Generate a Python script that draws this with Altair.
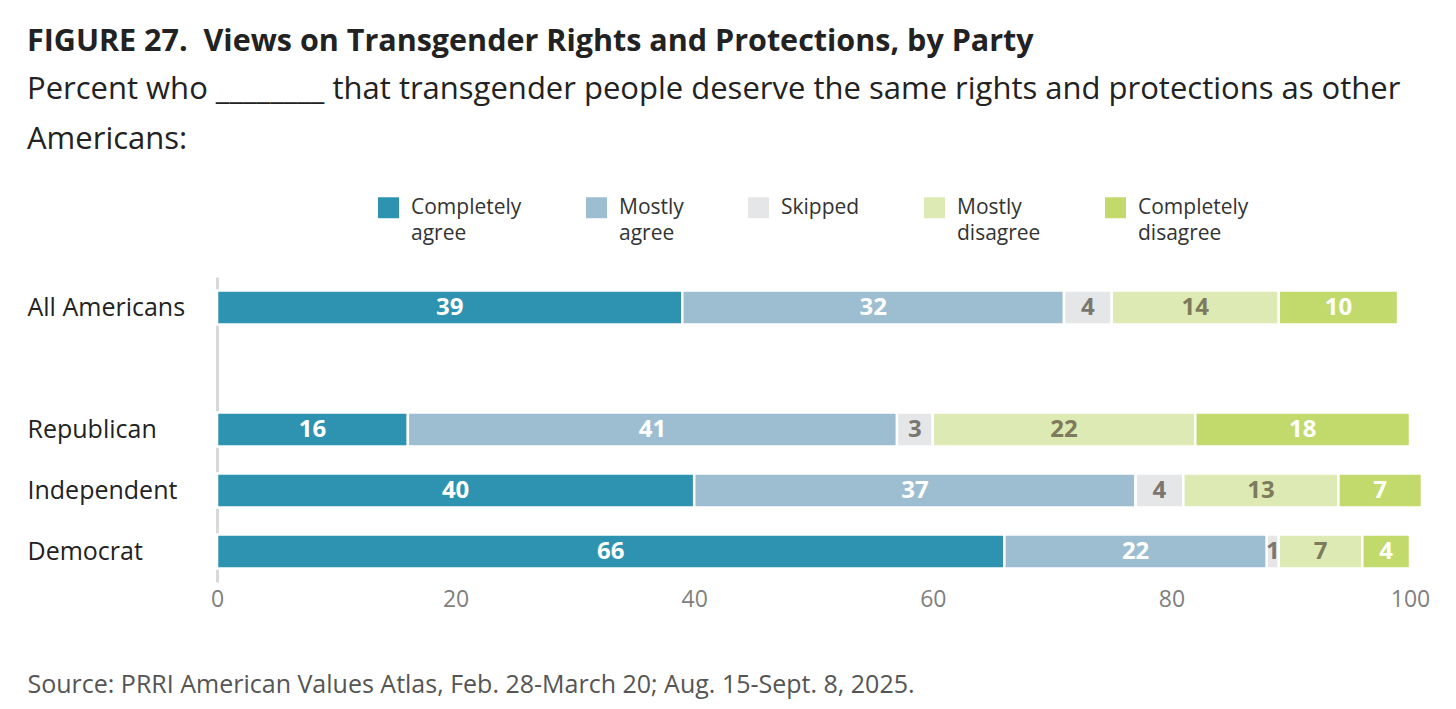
import altair as alt
import pandas as pd

groups = ["All Americans", "Republican", "Independent", "Democrat"]
categories = ["Completely agree", "Mostly agree", "Skipped", "Mostly disagree", "Completely disagree"]
all_americans = [39, 32, 4, 14, 10]
republican = [16, 41, 3, 22, 18]
independent = [40, 37, 4, 13, 7]
democrat = [66, 22, 1, 7, 4]
colors = ["#2E93B0", "#9DBED1", "#E5E6E8", "#DEEAB4", "#C2DA6C"]
label_colors = ["#FFFFFF", "#FFFFFF", "#7A7670", "#7E7A5E", "#FFFFFF"]
y_domain = ["All Americans", " ", "Republican", "Independent", "Democrat"]

rows = []
for g, vals in zip(groups, [all_americans, republican, independent, democrat]):
    for i, (c, v) in enumerate(zip(categories, vals)):
        rows.append({"group": g, "category": c, "value": v, "order": i, "tcolor": label_colors[i]})
df = pd.DataFrame(rows)

FONT = "Open Sans"

base = alt.Chart(df).transform_stack(
    stack="value", groupby=["group"], as_=["start", "end"],
    sort=[alt.SortField("order", order="ascending")]
).transform_calculate(mid="(datum.start + datum.end) / 2")

yscale = alt.Scale(domain=y_domain, paddingInner=0.44, paddingOuter=0.22)
y = alt.Y("group:N", scale=yscale,
          axis=alt.Axis(title=None, ticks=False, labelAlign="left", labelPadding=190,
                        labelFontSize=25, labelColor="#222222", labelFont=FONT,
                        domainColor="#D9D9D9", domainWidth=3))

bars = base.mark_bar(stroke="white", strokeWidth=2.5).encode(
    x=alt.X("start:Q", scale=alt.Scale(domain=[0, 100], nice=False),
            axis=alt.Axis(values=[0, 20, 40, 60, 80, 100], grid=False, domain=False, ticks=False,
                          labelFlush=False,
                          labelFontSize=23, labelColor="#7F7F7F", labelFont=FONT, labelPadding=6,
                          title="Source: PRRI American Values Atlas, Feb. 28-March 20; Aug. 15-Sept. 8, 2025.",
                          titleFont=FONT, titleFontWeight="normal", titleFontSize=25,
                          titleColor="#555555", titleAlign="left", titleAnchor="start",
                          titleX=-190, titleY=90)),
    x2="end:Q",
    y=y,
    color=alt.Color("category:N", scale=alt.Scale(domain=categories, range=colors),
                    legend=alt.Legend(title=None, orient="none", legendX=161, legendY=-80,
                                      direction="horizontal", columns=5, columnPadding=64,
                                      symbolType="square", symbolSize=440, symbolStrokeWidth=0,
                                      labelFontSize=21, labelColor="#333333", labelFont=FONT,
                                      labelOffset=12, labelLimit=300,
                                      labelExpr="length(split(datum.label, ' ')) > 1 ? split(datum.label, ' ') : [datum.label, '']")),
)

texts = base.mark_text(font=FONT, fontSize=24, fontWeight="bold").encode(
    x="mid:Q",
    y=alt.Y("group:N", scale=yscale),
    text=alt.Text("value:Q"),
    color=alt.Color("tcolor:N", scale=None),
)

chart = alt.layer(bars, texts).properties(
    width=1193, height=305,
    autosize=alt.AutoSizeParams(type="none"),
    padding={"left": 209, "top": 269, "right": 38, "bottom": 119},
    title=alt.TitleParams(
        text="FIGURE 27.\u00a0 Views on Transgender Rights and Protections, by Party",
        subtitle=["Percent who ________ that transgender people deserve the same rights and protections as other",
                  "Americans:"],
        anchor="start", frame="group", dx=-190,
        font=FONT, fontSize=30.5, fontWeight="bold", color="#222222",
        subtitleFont=FONT, subtitleFontSize=31, subtitleColor="#222222",
        subtitleLineHeight=50, subtitlePadding=18, offset=42,
    ),
).configure(
    view=alt.ViewConfig(stroke=None),
    style={"guide-label": {"lineHeight": 26}},
)

chart.save("out.html", embed_options={"renderer": "svg", "actions": False})
